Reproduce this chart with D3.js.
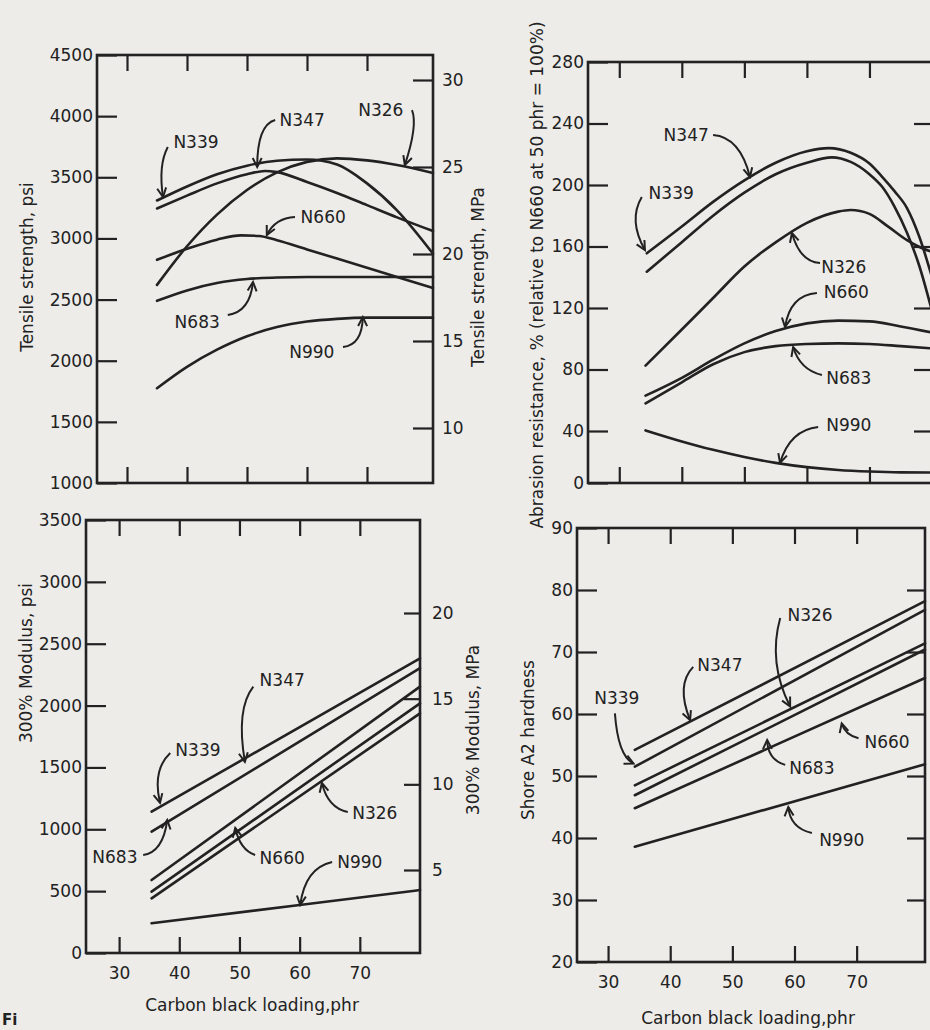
<!DOCTYPE html>
<html>
<head>
<meta charset="utf-8">
<script src="https://cdn.jsdelivr.net/npm/d3@7"></script>
<style>
  body { margin: 0; background: #edece9; }
  svg { display: block; }
</style>
</head>
<body>
<div id="chart"></div>
<script>
// Carbon black loading (phr) ticks shared by all four panels
const loadingTicks = [30, 40, 50, 60, 70];

// Tensile strength, psi  [phr, psi]
const tensileN339 = [[35, 3310], [40, 3425], [45, 3525], [50, 3595], [55, 3635], [60, 3645], [65, 3605], [70, 3450], [75, 3230], [81, 2875]];
const tensileN347 = [[35, 3245], [40, 3350], [45, 3450], [50, 3525], [53, 3552], [55, 3542], [60, 3462], [65, 3372], [70, 3272], [75, 3172], [81, 3060]];
const tensileN326 = [[35, 2620], [40, 2936], [45, 3195], [50, 3396], [55, 3540], [60, 3626], [65, 3655], [70, 3638], [75, 3600], [81, 3535]];
const tensileN660 = [[35, 2825], [40, 2915], [45, 2990], [49, 3025], [52, 3020], [55, 2985], [60, 2910], [65, 2835], [70, 2760], [75, 2685], [81, 2595]];
const tensileN683 = [[35, 2490], [40, 2575], [45, 2635], [50, 2668], [55, 2680], [60, 2685], [70, 2685], [81, 2685]];
const tensileN990 = [[35, 1775], [40, 1950], [45, 2090], [50, 2200], [55, 2275], [60, 2320], [65, 2342], [70, 2352], [75, 2352], [81, 2352]];
const tensilePsiTicks = [1000, 1500, 2000, 2500, 3000, 3500, 4000, 4500];
const tensileMpaTicks = [10, 15, 20, 25, 30];

// Abrasion resistance, %  [phr, %]
const abrasionN339 = [[34.4, 155.6], [40, 173], [45, 189], [50, 203], [55, 214.5], [60, 222], [63.5, 224], [67, 221], [70, 214], [72, 205.5], [74, 196], [76, 185], [78, 166], [80, 140]];
const abrasionN347 = [[34.4, 143.6], [40, 162.8], [45, 180], [50, 195], [55, 207], [60, 214.5], [64, 218], [67, 215], [70, 207], [72, 199], [74, 186], [76, 169], [78, 147], [80, 118]];
const abrasionN326 = [[34.2, 82.5], [40, 106], [45, 126.5], [50, 147], [55, 162.7], [60, 175.4], [65, 182.7], [67, 183.7], [70, 181.2], [73, 172.9], [76, 164.1], [78, 159.7], [80, 156.5]];
const abrasionN660 = [[34.2, 63], [40, 74.6], [45, 86.4], [50, 97], [55, 105], [60, 110], [65, 111.8], [70, 111.3], [75, 108], [80, 104]];
const abrasionN683 = [[34.2, 58], [40, 71.7], [45, 83.4], [50, 91.3], [55, 95.2], [60, 96.6], [65, 97], [70, 96.6], [75, 95.2], [80, 93.7]];
const abrasionN990 = [[34.2, 40.4], [40, 32], [45, 25.5], [50, 20], [55, 15.5], [60, 12.2], [65, 10], [70, 8.8], [75, 8.2], [80, 8.1]];
const abrasionTicks = [0, 40, 80, 120, 160, 200, 240, 280];

// 300% Modulus, psi  [phr, psi]
const modulusN339 = [[35.4, 1142], [80, 2382]];
const modulusN683 = [[35.4, 981], [80, 2302]];
const modulusN347 = [[35.4, 590], [80, 2153]];
const modulusN660 = [[35.4, 496], [80, 2018]];
const modulusN326 = [[35.4, 442], [80, 1937]];
const modulusN990 = [[35.4, 240], [60, 388], [80, 509]];
const modulusPsiTicks = [0, 500, 1000, 1500, 2000, 2500, 3000, 3500];
const modulusMpaTicks = [5, 10, 15, 20];

// Shore A2 hardness  [phr, Shore A2]
const hardnessN347 = [[34.3, 54.2], [81, 78.2]];
const hardnessN339 = [[34.3, 51.5], [81, 76.8]];
const hardnessN326 = [[34.3, 48.5], [81, 71.4]];
const hardnessN683 = [[34.3, 46.9], [81, 70.4]];
const hardnessN660 = [[34.3, 44.8], [81, 65.8]];
const hardnessN990 = [[34.3, 38.6], [81, 51.9]];
const hardnessTicks = [20, 30, 40, 50, 60, 70, 80, 90];

// Callouts in data units: [name, label, arrow start, bend, arrow tip]
const tensileNotes = [
  ['N339', [41.5, 3789], [36.8, 3748], [35.2, 3601], [36, 3339]],
  ['N347', [59.2, 3968], [54.7, 3968], [51.7, 3928], [51.7, 3584]],
  ['N326', [72.3, 4050], [77.5, 4050], [78.5, 3927], [76.3, 3600]],
  ['N660', [62.7, 3175], [58, 3175], [54.7, 3167], [53.3, 3028]],
  ['N683', [41.7, 2316], [46.8, 2374], [50.5, 2398], [51, 2644]],
  ['N990', [60.8, 2071], [66, 2112], [69.2, 2128], [69.3, 2357]]
];
const abrasionNotes = [
  ['N347', [40.7, 232.5], [45, 232.5], [49.3, 231.2], [50.9, 205.2]],
  ['N339', [38.3, 194.8], [33.6, 192.2], [31.4, 177.2], [34.1, 157.7]],
  ['N326', [65.9, 146.7], [62.1, 149.3], [58.9, 149.9], [57.6, 168.8]],
  ['N660', [66.3, 130.4], [61.6, 129.8], [57.3, 128.5], [56.5, 107.6]],
  ['N683', [66.7, 74.5], [62.4, 76.4], [58.9, 79.7], [57.8, 94.6]],
  ['N990', [66.7, 43.9], [61.8, 42.6], [57.3, 40.7], [55.7, 15.4]]
];
const modulusNotes = [
  ['N347', [57.1, 2207], [52.3, 2153], [49.4, 1973], [50.9, 1545]],
  ['N339', [43.1, 1641], [38.5, 1617], [35.5, 1479], [36.8, 1213]],
  ['N683', [29.3, 776], [34, 792], [37.3, 817], [38, 1075]],
  ['N326', [72.5, 1132], [68, 1140], [64.7, 1172], [63.7, 1374]],
  ['N660', [57.1, 768], [52.6, 792], [50.1, 833], [49.3, 1010]],
  ['N990', [70, 736], [65.4, 736], [60.9, 687], [60.1, 388]]
];
const hardnessNotes = [
  ['N326', [62.5, 76], [57.7, 75.5], [55.7, 68.3], [59.3, 61.2]],
  ['N347', [48, 67.9], [43.7, 67.6], [40.9, 64.7], [43.2, 59]],
  ['N339', [31.4, 62.6], [31.1, 60.1], [31.6, 53.2], [34.1, 52]],
  ['N660', [74.9, 55.5], [70.3, 56.1], [68.1, 56.6], [67.6, 58.5]],
  ['N683', [62.8, 51.3], [58.5, 51.8], [55.7, 52.6], [55.6, 55.8]],
  ['N990', [67.6, 39.7], [62.8, 40.8], [59.3, 41.6], [59, 45]]
];

const INK = '#222';
const FONT = '"DejaVu Sans", Verdana, sans-serif';

const svg = d3.select('#chart')
  .append('svg')
  .attr('width', 930)
  .attr('height', 1030);

// open chevron arrowhead for the callouts
svg.append('defs').append('marker')
  .attr('id', 'chev')
  .attr('viewBox', '-11 -6 13 12')
  .attr('refX', 0)
  .attr('refY', 0)
  .attr('markerWidth', 13)
  .attr('markerHeight', 12)
  .attr('markerUnits', 'userSpaceOnUse')
  .attr('orient', 'auto')
  .append('path')
  .attr('d', 'M-9,-4.5L0,0L-9,4.5')
  .attr('fill', 'none')
  .attr('stroke', INK)
  .attr('stroke-width', 2);

const panels = [
  {
    box: { left: 97, right: 433, top: 55, bottom: 483 },
    xDomain: [25, 81],
    y: d3.scaleLinear().domain([1000, 4500]).range([483, 55]),
    yTicks: tensilePsiTicks,
    yR: d3.scaleLinear().domain([10, 30]).range([428, 80]),
    yRTicks: tensileMpaTicks, rightLabels: true, rightTick: 20, rightPad: 9,
    xLabels: false,
    series: [tensileN339, tensileN347, tensileN326, tensileN660, tensileN683, tensileN990],
    notes: tensileNotes
  },
  {
    box: { left: 588, right: 932, top: 62, bottom: 483 },
    xDomain: [25, 80],
    // hand-drawn axis: the 0-40 step is shorter than the others
    y: d3.scaleLinear().domain([0, 40, 280]).range([483, 431, 62]),
    yTicks: abrasionTicks,
    yR: null, yRTicks: abrasionTicks.slice(1, -1), rightLabels: false, rightTick: 18,
    xLabels: false,
    series: [abrasionN339, abrasionN347, abrasionN326, abrasionN660, abrasionN683, abrasionN990],
    notes: abrasionNotes
  },
  {
    box: { left: 86, right: 420, top: 520, bottom: 953 },
    xDomain: [24.5, 80],
    y: d3.scaleLinear().domain([0, 3500]).range([953, 520]),
    yTicks: modulusPsiTicks,
    yR: d3.scaleLinear().domain([5, 20]).range([870, 613]),
    yRTicks: modulusMpaTicks, rightLabels: true, rightTick: 16, rightPad: 12,
    xLabels: true, xPad: 14,
    series: [modulusN339, modulusN683, modulusN347, modulusN660, modulusN326, modulusN990],
    notes: modulusNotes
  },
  {
    box: { left: 577, right: 925, top: 528, bottom: 962 },
    xDomain: [25, 81],
    y: d3.scaleLinear().domain([20, 90]).range([962, 528]),
    yTicks: hardnessTicks,
    yR: null, yRTicks: hardnessTicks.slice(1, -1), rightLabels: false, rightTick: 18,
    xLabels: true, xPad: 14,
    series: [hardnessN347, hardnessN339, hardnessN326, hardnessN683, hardnessN660, hardnessN990],
    notes: hardnessNotes
  }
];

function styleAxis(sel) {
  sel.select('.domain').remove();
  sel.attr('font-family', FONT).attr('font-size', 17);
  sel.selectAll('line').attr('stroke', INK).attr('stroke-width', 2.2);
  sel.selectAll('text').attr('fill', INK);
}

panels.forEach(p => {
  const b = p.box;
  const x = d3.scaleLinear().domain(p.xDomain).range([b.left, b.right]);
  const y = p.y;
  const yR = p.yR || y;
  const g = svg.append('g');
  const none = () => '';

  // left axis, ticks pointing into the plot
  g.append('g')
    .attr('transform', `translate(${b.left},0)`)
    .call(d3.axisLeft(y).tickValues(p.yTicks).tickSizeInner(-20).tickSizeOuter(0).tickPadding(4).tickFormat(d3.format('d')))
    .call(styleAxis);

  // right axis
  g.append('g')
    .attr('transform', `translate(${b.right},0)`)
    .call(d3.axisRight(yR).tickValues(p.yRTicks).tickSizeInner(-p.rightTick).tickSizeOuter(0)
      .tickPadding(p.rightPad || 4).tickFormat(p.rightLabels ? d3.format('d') : none))
    .call(styleAxis);

  // top and bottom ticks
  g.append('g')
    .attr('transform', `translate(0,${b.top})`)
    .call(d3.axisTop(x).tickValues(loadingTicks).tickSizeInner(-16).tickSizeOuter(0).tickFormat(none))
    .call(styleAxis);

  g.append('g')
    .attr('transform', `translate(0,${b.bottom})`)
    .call(d3.axisBottom(x).tickValues(loadingTicks).tickSizeInner(-16).tickSizeOuter(0)
      .tickPadding(p.xPad || 4).tickFormat(p.xLabels ? d3.format('d') : none))
    .call(styleAxis);

  // frame
  g.append('rect')
    .attr('x', b.left)
    .attr('y', b.top)
    .attr('width', b.right - b.left)
    .attr('height', b.bottom - b.top)
    .attr('fill', 'none')
    .attr('stroke', INK)
    .attr('stroke-width', 2.6);

  // curves
  const line = d3.line()
    .x(d => x(d[0]))
    .y(d => y(d[1]))
    .curve(d3.curveMonotoneX);

  g.selectAll('.curve')
    .data(p.series)
    .enter()
    .append('path')
    .attr('class', 'curve')
    .attr('d', line)
    .attr('fill', 'none')
    .attr('stroke', INK)
    .attr('stroke-width', 2.6)
    .attr('stroke-linecap', 'round');

  // callouts
  const pt = d => `${x(d[0])},${y(d[1])}`;
  const notes = g.selectAll('.note')
    .data(p.notes)
    .enter()
    .append('g')
    .attr('class', 'note');

  notes.append('path')
    .attr('d', d => `M${pt(d[2])}Q${pt(d[3])} ${pt(d[4])}`)
    .attr('fill', 'none')
    .attr('stroke', INK)
    .attr('stroke-width', 2)
    .attr('marker-end', 'url(#chev)');

  notes.append('text')
    .attr('x', d => x(d[1][0]))
    .attr('y', d => y(d[1][1]))
    .attr('dy', '0.36em')
    .attr('text-anchor', 'middle')
    .attr('font-family', FONT)
    .attr('font-size', 17)
    .attr('fill', INK)
    .text(d => d[0]);
});

// axis titles
const titles = [
  ['Tensile strength, psi', 27, 267, -90],
  ['Tensile strength, MPa', 478, 277, -90],
  ['Abrasion resistance, % (relative to N660 at 50 phr = 100%)', 537, 275, -90],
  ['300% Modulus, psi', 26, 663, -90],
  ['300% Modulus, MPa', 473, 730, -90],
  ['Shore A2 hardness', 528, 740, -90],
  ['Carbon black loading,phr', 252, 1005, 0],
  ['Carbon black loading,phr', 748, 1018, 0]
];

svg.selectAll('.title')
  .data(titles)
  .enter()
  .append('text')
  .attr('class', 'title')
  .attr('transform', d => `translate(${d[1]},${d[2]}) rotate(${d[3]})`)
  .attr('dy', '0.36em')
  .attr('text-anchor', 'middle')
  .attr('font-family', FONT)
  .attr('font-size', 17)
  .attr('fill', INK)
  .text(d => d[0]);

// start of the figure caption, as much as the scan shows
svg.append('text')
  .attr('x', 2)
  .attr('y', 1025)
  .attr('font-family', FONT)
  .attr('font-weight', 'bold')
  .attr('font-size', 15)
  .attr('fill', INK)
  .text('Fi');
</script>
</body>
</html>
